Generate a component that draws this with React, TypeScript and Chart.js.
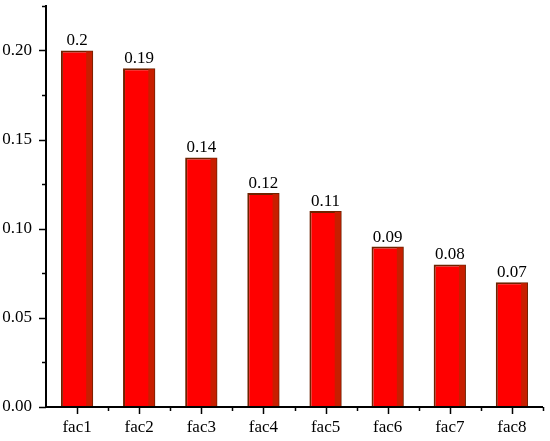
import React, { useEffect, useRef } from "react";
import { Chart, registerables } from "chart.js";

Chart.register(...registerables);

const categories = ["fac1", "fac2", "fac3", "fac4", "fac5", "fac6", "fac7", "fac8"];
const values = [0.2, 0.19, 0.14, 0.12, 0.11, 0.09, 0.08, 0.07];
const valueLabels = ["0.2", "0.19", "0.14", "0.12", "0.11", "0.09", "0.08", "0.07"];
const yMax = 0.2255;
const yStep = 0.05;

const FONT = "'Liberation Serif', 'Times New Roman', serif";

const axesPlugin = {
  id: "originAxes",
  afterDatasetsDraw(chart: any) {
    const ctx = chart.ctx;
    const x = chart.scales.x;
    const y = chart.scales.y;
    const area = chart.chartArea;
    const meta = chart.getDatasetMeta(0);
    ctx.save();
    // darker shading strip on the right side of each bar
    ctx.fillStyle = "#c81e00";
    meta.data.forEach((bar: any) => {
      const right = bar.x + bar.width / 2 - 1;
      ctx.fillRect(right - 6, bar.y + 1, 6, bar.base - bar.y - 1);
    });
    ctx.strokeStyle = "#000";
    ctx.lineWidth = 2;
    ctx.beginPath();
    ctx.moveTo(area.left, area.top);
    ctx.lineTo(area.left, area.bottom);
    ctx.lineTo(area.right, area.bottom);
    ctx.stroke();
    ctx.lineWidth = 1.5;
    // y ticks
    for (let v = 0; v <= yMax + 1e-9; v += yStep / 2) {
      const py = Math.round(y.getPixelForValue(v)) + 0.5;
      const major = Math.abs(v / yStep - Math.round(v / yStep)) < 1e-6;
      const len = major ? 7 : 4;
      ctx.beginPath();
      ctx.moveTo(area.left - len, py);
      ctx.lineTo(area.left, py);
      ctx.stroke();
    }
    // x ticks
    const n = categories.length;
    for (let i = 0; i < n; i++) {
      const px = Math.round(x.getPixelForValue(i)) + 0.5;
      ctx.beginPath();
      ctx.moveTo(px, area.bottom);
      ctx.lineTo(px, area.bottom + 7);
      ctx.stroke();
      const pb = Math.round(x.getPixelForValue(i + 0.5)) + 0.5;
      ctx.beginPath();
      ctx.moveTo(pb, area.bottom);
      ctx.lineTo(pb, area.bottom + 4);
      ctx.stroke();
    }
    // value labels
    ctx.fillStyle = "#000";
    ctx.font = `17px ${FONT}`;
    ctx.textAlign = "center";
    ctx.textBaseline = "bottom";
    meta.data.forEach((bar: any, i: number) => {
      ctx.fillText(valueLabels[i], bar.x, bar.y - 1);
    });
    ctx.restore();
  },
};

export default function App() {
  const ref = useRef<HTMLCanvasElement | null>(null);
  useEffect(() => {
    document.body.style.margin = "0";
    const chart = new Chart(ref.current as HTMLCanvasElement, {
      type: "bar",
      data: {
        labels: categories,
        datasets: [
          {
            data: values,
            backgroundColor: "#ff0000",
            borderColor: "#6e2200",
            borderWidth: 2,
            barPercentage: 0.52,
            categoryPercentage: 1,
          },
        ],
      },
      options: {
        responsive: false,
        animation: false,
        layout: { padding: { top: 5, right: 7, left: 0, bottom: 0 } },
        plugins: { legend: { display: false }, tooltip: { enabled: false } },
        scales: {
          x: {
            offset: true,
            grid: { display: false },
            border: { display: false },
            ticks: {
              color: "#000",
              font: { family: FONT, size: 17 },
              padding: 2,
              maxRotation: 0,
            },
            afterFit(scale: any) {
              scale.height = 34;
              scale.paddingLeft = 0;
              scale.paddingRight = 0;
            },
          },
          y: {
            min: 0,
            max: yMax,
            grid: { display: false },
            border: { display: false },
            ticks: {
              stepSize: yStep,
              includeBounds: false,
              color: "#000",
              font: { family: FONT, size: 17 },
              padding: 6,
              callback: (v: any) => Number(v).toFixed(2),
            },
            afterFit(scale: any) {
              scale.width = 46;
              scale.paddingTop = 0;
              scale.paddingBottom = 0;
            },
          },
        },
      },
      plugins: [axesPlugin],
    });
    return () => chart.destroy();
  }, []);
  return <canvas ref={ref} width={550} height={441} />;
}
